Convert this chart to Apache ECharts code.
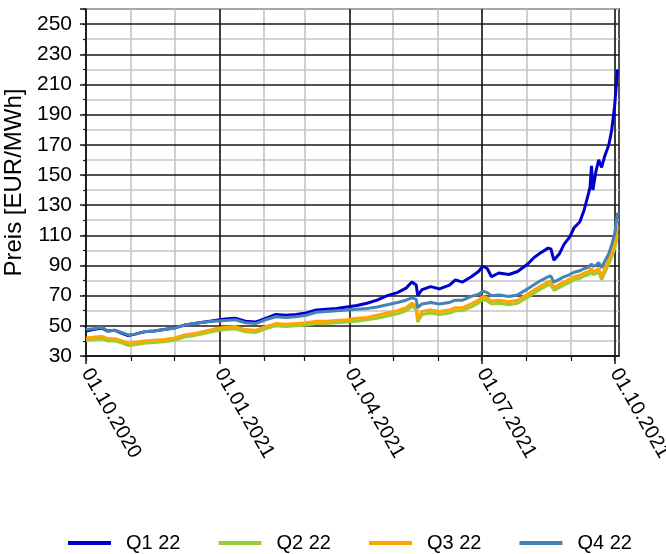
<!DOCTYPE html>
<html><head><meta charset="utf-8">
<script src="https://cdn.jsdelivr.net/npm/echarts@6/dist/echarts.min.js"></script>
<style>html,body{margin:0;padding:0;background:#fff}#c{width:666px;height:554px}</style>
</head><body><div id="c"></div>
<script>
// ---- data ----
const dates = ['2020-10-01','2020-10-06','2020-10-12','2020-10-16','2020-10-21','2020-10-26','2020-10-30','2020-11-04','2020-11-10','2020-11-17','2020-11-24','2020-12-01','2020-12-08','2020-12-15','2020-12-22','2020-12-29','2021-01-05','2021-01-12','2021-01-19','2021-01-26','2021-02-02','2021-02-09','2021-02-16','2021-02-23','2021-03-02','2021-03-09','2021-03-16','2021-03-23','2021-03-30','2021-04-06','2021-04-13','2021-04-20','2021-04-27','2021-05-04','2021-05-10','2021-05-14','2021-05-17','2021-05-18','2021-05-21','2021-05-27','2021-06-02','2021-06-09','2021-06-13','2021-06-18','2021-06-24','2021-06-29','2021-07-02','2021-07-05','2021-07-08','2021-07-13','2021-07-20','2021-07-26','2021-08-02','2021-08-06','2021-08-11','2021-08-16','2021-08-18','2021-08-20','2021-08-24','2021-08-27','2021-08-31','2021-09-03','2021-09-07','2021-09-10','2021-09-13','2021-09-14','2021-09-15','2021-09-16','2021-09-18','2021-09-20','2021-09-22','2021-09-24','2021-09-27','2021-09-29','2021-10-01','2021-10-03'];
const q1 = [46.5,47.5,48.5,46.5,47,45,43.5,44.5,46,46.5,47.5,48.5,50.5,51.5,52.5,53.5,54.5,55,53,52.5,55,57.5,57,57.5,58.5,60.5,61,61.5,62.5,63.5,65,67,70,72,75,79,77,70,74,76,74.5,77,80.5,79,82.5,86,89.5,88,82.5,85,84,86,91,95,98.5,101.5,101,93.5,98,104,109,115,119,127,138,142,156,140,152,160,155,162,170,180,196,220];
const q2 = [40.5,41,41.5,40,40,38.5,37,37.5,38.5,39,39.5,40.5,42.5,43.5,45,46.5,47.5,48,46,45.5,48,50,49.5,50,50.5,51.5,51.5,52,52.5,53,54,55,56.5,58,60,63,61,52.5,57.5,58.5,57.5,58.5,60,60,62.5,65,67.5,66.5,64.5,65,64,65,69,71.5,74.5,77,77,73.5,75.5,77,79,80.5,81.5,83,84,84.5,85.5,84,84.5,85.5,80.5,85,91,96,101,110];
const q3 = [42,42.5,43,41.5,41.5,40,38.5,39,40,40.5,41,42,44,45,46.5,48,49,49.5,47.5,47,49.5,51.5,51,51.5,52,53,53,53.5,54,55,55.5,57,58.5,60,62,65,63,55,59.5,60.5,59.5,60.5,62,62,64.5,67,69.5,68.5,66.5,67,66,67,71,73.5,76.5,79,79.5,75.5,77.5,79,81,82.5,83.5,85,86,86.5,88,86,86.5,88,82.5,87.5,94,99,105,116];
const q4 = [47.5,48,49,46.5,47,45.5,44,44.5,46,46.5,47.5,48.5,50.5,51.5,52.5,53,53.5,54,52,51.5,54,56,55.5,56,57,59,59.5,60,60.5,61,61.5,62.5,64,65.5,67,68.5,67.5,62,64.5,65.5,64.5,65.5,67,67,69.5,71,73,72,70,70.5,69.5,70.5,74.5,77,80,82.5,83,79,81,82.5,84,85.5,86.5,88,89,89.5,91,89.5,90,92,88.5,92.5,98,104,111,125];
const seriesNames = ['Q1 22','Q2 22','Q3 22','Q4 22'];
const seriesValues = [q1, q2, q3, q4];
const seriesColors = ['#0000CD','#9ACD32','#FFA500','#4682B4'];
const quarterTicks = ['2020-10-01','2021-01-01','2021-04-01','2021-07-01','2021-10-01'];
const monthTicks = ['2020-11-01','2020-12-01','2021-02-01','2021-03-01','2021-05-01','2021-06-01','2021-08-01','2021-09-01'];
const yTickLabels = [30,50,70,90,110,130,150,170,190,210,230,250];
const axisStart = '2020-10-01', axisEnd = '2021-10-04';

// ---- axis categories (every calendar day) ----
const categories = [];
{
  const pad = n => (n < 10 ? '0' : '') + n;
  let t = Date.parse(axisStart + 'T00:00:00Z');
  const end = Date.parse(axisEnd + 'T00:00:00Z');
  while (t <= end) {
    const d = new Date(t);
    categories.push(d.getUTCFullYear() + '-' + pad(d.getUTCMonth() + 1) + '-' + pad(d.getUTCDate()));
    t += 86400000;
  }
}
const isQuarter = (i, v) => quarterTicks.indexOf(v) >= 0;
const isMonth = (i, v) => monthTicks.indexOf(v) >= 0 || quarterTicks.indexOf(v) >= 0;
const fmtDate = v => { const p = v.split('-'); return p[2] + '.' + p[1] + '.' + p[0]; };

const FONT = '"Liberation Sans",Arial,sans-serif';
const BLACK = '#1a1a1a', GRAY = '#c4c4c4';

const chart = echarts.init(document.getElementById('c'), null, {renderer: 'canvas'});
chart.setOption({
  animation: false,
  backgroundColor: '#fff',
  grid: {left: 86, right: 47, top: 9, bottom: 198, show: true, borderColor: BLACK, borderWidth: 1.5,
         backgroundColor: 'transparent', containLabel: false, outerBoundsMode: 'none'},
  legend: {
    data: seriesNames, left: 63, top: 528, width: 640, icon: 'rect', itemWidth: 43, itemHeight: 4, itemGap: 38,
    textStyle: {fontFamily: FONT, fontSize: 20, color: '#000', padding: [0, 0, 0, 10]}
  },
  xAxis: [
    {
      type: 'category', data: categories, boundaryGap: false, position: 'bottom',
      axisLine: {show: true, lineStyle: {color: BLACK, width: 1.5}},
      axisTick: {show: true, interval: isMonth, length: 5, lineStyle: {color: BLACK, width: 1.2}},
      axisLabel: {show: false},
      splitLine: {show: true, interval: isMonth, lineStyle: {color: GRAY, width: 1.6}}
    },
    {
      type: 'category', data: categories, boundaryGap: false, position: 'bottom', z: 1,
      axisLine: {show: false},
      axisTick: {show: true, interval: isQuarter, length: 8, lineStyle: {color: BLACK, width: 1.5}},
      axisLabel: {show: true, interval: isQuarter, rotate: -60, margin: 14, formatter: fmtDate,
                  fontFamily: FONT, fontSize: 20, color: '#000'},
      splitLine: {show: true, interval: isQuarter, lineStyle: {color: BLACK, width: 1.6}}
    }
  ],
  yAxis: [
    {
      type: 'value', min: 30, max: 260, interval: 10, position: 'left', z: 1,
      name: 'Preis [EUR/MWh]', nameLocation: 'middle', nameGap: 45, nameRotate: 90,
      nameTextStyle: {fontFamily: FONT, fontSize: 24, color: '#000'},
      axisLine: {show: true, lineStyle: {color: BLACK, width: 1.5}},
      axisTick: {show: true, length: 3, lineStyle: {color: BLACK, width: 1.2}},
      axisLabel: {margin: 14, fontFamily: FONT, fontSize: 21, color: '#000',
                  formatter: v => (yTickLabels.indexOf(v) >= 0 ? String(v) : '')},
      splitLine: {show: true, lineStyle: {color: [BLACK, GRAY], width: 1.6}}
    },
    {
      type: 'value', min: 30, max: 260, interval: 20, position: 'left',
      axisLine: {show: false}, axisLabel: {show: false}, splitLine: {show: false},
      axisTick: {show: true, length: 6, lineStyle: {color: BLACK, width: 1.5}}
    }
  ],
  series: seriesNames.map((name, k) => ({
    name, type: 'line', xAxisIndex: 0, yAxisIndex: 0, showSymbol: false, symbol: 'none',
    color: seriesColors[k], lineStyle: {width: 3, color: seriesColors[k]},
    data: dates.map((d, i) => [d, seriesValues[k][i]]), z: 3
  }))
});
</script></body></html>
